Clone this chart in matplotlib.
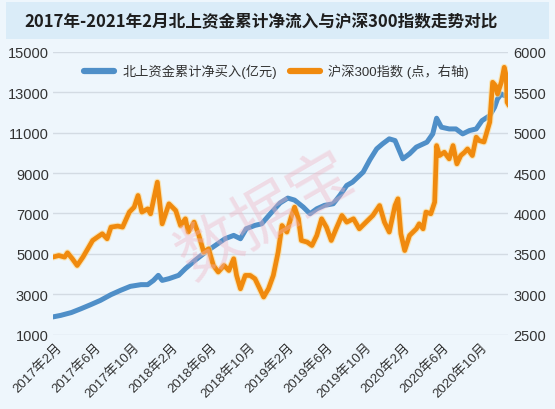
"""北上资金累计净流入 vs 沪深300 (2017-02 ~ 2021-02), dual axis line chart."""
import matplotlib
matplotlib.use("Agg")
import matplotlib.pyplot as plt
import matplotlib.patheffects as pe
from matplotlib.patches import Rectangle
import numpy as np

plt.rcParams["font.family"] = ["Liberation Sans", "Noto Sans CJK SC", "DejaVu Sans"]

TITLE = "2017年-2021年2月北上资金累计净流入与沪深300指数走势对比"
NB_LABEL = "北上资金累计净买入(亿元)"
HS_LABEL = "沪深300指数 (点，右轴)"

# x in months counted from 2017-02
nb_month = [-0.3, 0.5, 1.6, 2.6, 3.6, 4.6, 5.7, 6.7, 7.7, 8.8, 9.5, 10.1, 10.6, 11.0,
            11.7, 12.7, 13.4, 14.4, 15.5, 16.5, 17.5, 18.4, 19.1, 19.7, 20.6, 21.3,
            22.2, 23.2, 24.0, 24.7, 25.6, 26.3, 27.0, 27.8, 28.7, 29.4, 30.1, 30.7,
            31.8, 32.5, 33.2, 33.8, 34.5, 35.1, 35.9, 36.6, 37.3, 38.4, 39.0, 39.4,
            39.9, 40.7, 41.4, 42.1, 42.8, 43.5, 44.1, 44.9, 45.4, 45.7, 46.1, 46.4]
nb_value = [1885, 1960, 2100, 2290, 2490, 2700, 2985, 3200, 3395, 3480, 3480, 3690, 3940, 3690,
            3775, 3940, 4270, 4680, 5095, 5420, 5750, 5915, 5750, 6245, 6410, 6490,
            6990, 7520, 7760, 7660, 7315, 6985, 7230, 7400, 7480, 7900, 8385, 8550,
            9045, 9660, 10195, 10440, 10690, 10605, 9700, 9950, 10280, 10525, 10935, 11710,
            11265, 11180, 11180, 10935, 11100, 11180, 11590, 11840, 12250, 12660, 12910, 12830]

hs_month = [-0.3, 0.3, 0.9, 1.2, 1.7, 2.2, 2.8, 3.3, 3.8, 4.3, 4.8, 5.3, 5.7, 6.4, 6.9,
            7.6, 8.1, 8.5, 8.9, 9.5, 9.8, 10.5, 11.0, 11.7, 12.4, 12.9, 13.4, 13.7,
            14.3, 14.8, 15.3, 15.8, 16.3, 16.8, 17.4, 17.9, 18.4, 18.7, 19.1, 19.6,
            20.1, 20.6, 21.1, 21.5, 22.0, 22.5, 23.0, 23.4, 23.9, 24.4, 24.7, 25.1,
            25.4, 26.0, 26.5, 27.0, 27.5, 28.0, 28.5, 29.0, 29.6, 30.1, 30.8, 31.4,
            32.1, 32.8, 33.5, 34.0, 34.5, 35.1, 35.4, 35.7, 36.1, 36.6, 37.3, 37.6,
            38.0, 38.3, 38.8, 39.2, 39.4, 39.7, 40.2, 40.7, 41.1, 41.5, 41.9, 42.3,
            42.6, 43.1, 43.5, 43.8, 44.3, 44.9, 45.2, 45.5, 45.7, 46.1, 46.4, 46.6,
            46.7, 46.9]
hs_value = [3461, 3480, 3460, 3514, 3440, 3357, 3461, 3563, 3666, 3708, 3749, 3687, 3831, 3844, 3831,
            4017, 4078, 4222, 4017, 4057, 3996, 4387, 3872, 4119, 4036, 3851, 3934, 3770,
            3893, 3728, 3522, 3563, 3357, 3276, 3357, 3295, 3440, 3234, 3069, 3234,
            3234, 3193, 3069, 2967, 3069, 3234, 3522, 3851, 3770, 3975, 4078, 3934,
            3666, 3646, 3604, 3728, 3934, 3830, 3666, 3810, 3975, 3893, 3934, 3810,
            3893, 3975, 4098, 3893, 3770, 4098, 4181, 3749, 3542, 3728, 3810, 3872,
            3810, 4017, 3996, 4140, 4839, 4716, 4757, 4675, 4839, 4613, 4716, 4757,
            4798, 4716, 4943, 4901, 4884, 5130, 5622, 5580, 5478, 5622, 5807, 5704,
            5375, 5333]

tick_labels = ["2017年2月", "2017年6月", "2017年10月", "2018年2月", "2018年6月", "2018年10月",
               "2019年2月", "2019年6月", "2019年10月", "2020年2月", "2020年6月", "2020年10月"]

BLUE = "#4f8fc8"
ORANGE = "#f08a0e"

fig = plt.figure(figsize=(5.55, 4.10), dpi=100, facecolor="#eef6fc")
fig.patches.append(Rectangle((0.01, 0.902), 0.98, 0.09, transform=fig.transFigure,
                             facecolor="#daecf8", edgecolor="none", zorder=0))
fig.text(0.47, 0.946, TITLE, ha="center", va="center", fontsize=12, fontweight="heavy",
         color="#1e1e1e", family=["Noto Sans CJK SC", "DejaVu Sans"])

ax = fig.add_axes([0.0955, 0.181, 0.82, 0.6905])
ax.set_facecolor("none")
ax2 = ax.twinx()

# watermark
fig.text(0.48, 0.47, "数据宝", fontsize=46, color="#f0b4c4", alpha=0.4, rotation=30,
         ha="center", va="center", family=["Noto Sans CJK SC"], zorder=1)

ax.plot(nb_month, nb_value, color=BLUE, lw=3.6, solid_capstyle="round",
        solid_joinstyle="round", label=NB_LABEL)
ax2.plot(hs_month, hs_value, color=ORANGE, lw=3.4, solid_capstyle="round",
         solid_joinstyle="round", label=HS_LABEL,
         path_effects=[pe.Stroke(linewidth=5.0, foreground="#ffd98a", alpha=0.6), pe.Normal()])

ax.set_ylim(1000, 15000)
ax.set_yticks(np.arange(1000, 15001, 2000))
ax2.set_ylim(2500, 6000)
ax2.set_yticks(np.arange(2500, 6001, 500))
ax.set_xlim(-0.3, 46.8)
ax.set_xticks(np.arange(0, 45, 4))
ax.set_xticklabels(tick_labels, rotation=45, ha="right", rotation_mode="anchor",
                   fontsize=9.5, color="#333333")
ax.grid(axis="y", color="#d3dbe3", lw=1)
ax.set_axisbelow(True)
for a in (ax, ax2):
    for s in a.spines.values():
        s.set_visible(False)
    a.tick_params(length=0, labelsize=10.5, colors="#333333")
ax.tick_params(axis="y", pad=3)
ax2.tick_params(axis="y", pad=4)
ax.tick_params(axis="x", pad=4, labelsize=9.5)

h1, l1 = ax.get_legend_handles_labels()
h2, l2 = ax2.get_legend_handles_labels()
leg = fig.legend(h1 + h2, l1 + l2, loc="center left", bbox_to_anchor=(0.13, 0.824),
                 ncol=2, frameon=False, fontsize=9.5, handlelength=2.3,
                 handletextpad=0.6, columnspacing=1.0)
for t in leg.get_texts():
    t.set_color("#333333")
for ln in leg.get_lines():
    ln.set_linewidth(4.5)
    ln.set_path_effects([])

fig.savefig("out.png", dpi=100, facecolor=fig.get_facecolor())
